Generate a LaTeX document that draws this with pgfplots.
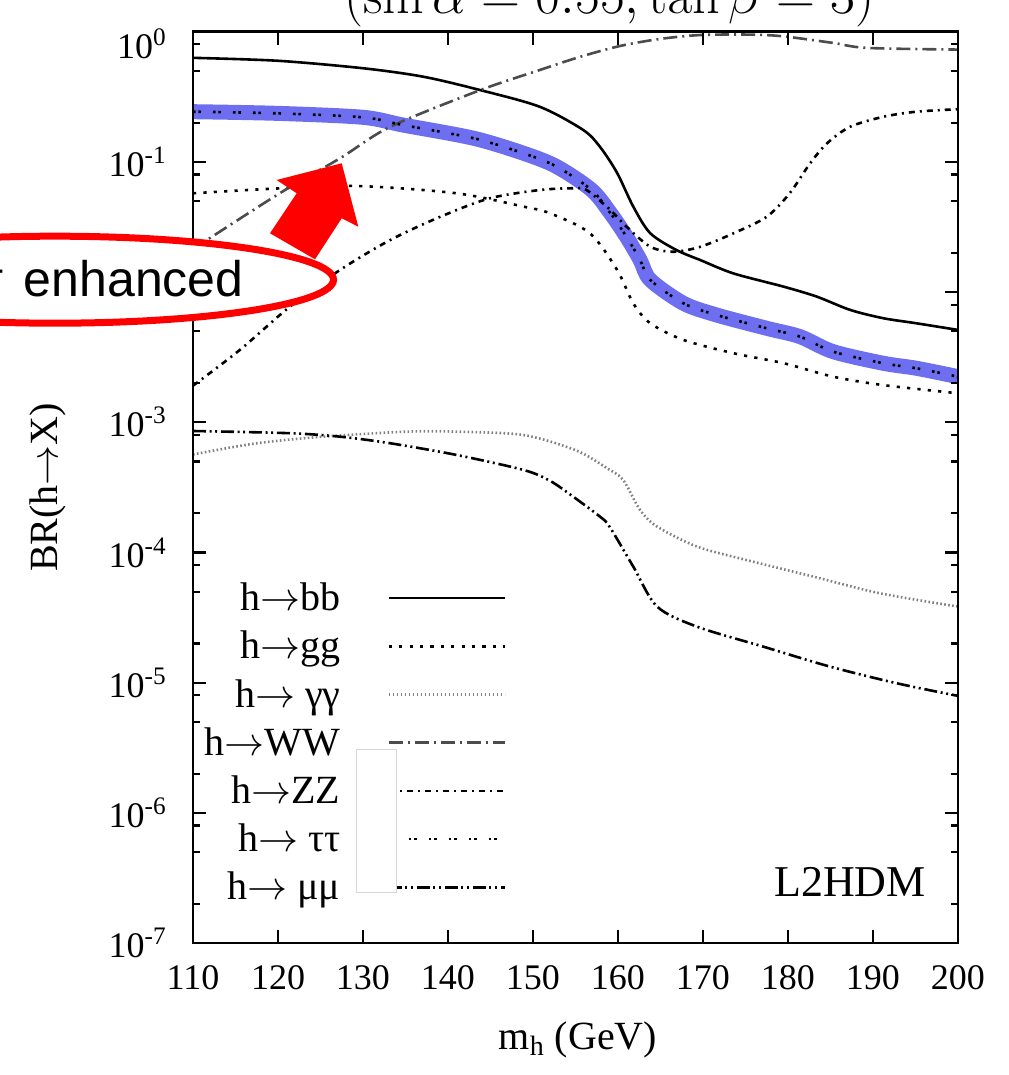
\RequirePackage{fix-cm}
\documentclass[border=0pt]{standalone}
\usepackage[no-math]{fontspec}
\setmainfont{Liberation Serif}
\newfontfamily\sansfont{Liberation Sans}
\usepackage{pgfplots}
\pgfplotsset{compat=1.18}

\definecolor{bandblue}{RGB}{110,110,240}
\definecolor{boxgray}{RGB}{215,215,215}

\tikzset{
  bbline/.style={black, line width=1.3pt},
  ggline/.style={black, line width=1.3pt, dash pattern=on 1.6pt off 3.6pt},
  aaline/.style={black!50, line width=1.3pt, dash pattern=on 0.8pt off 1.2pt},
  wwline/.style={black!70, line width=1.3pt, dash pattern=on 7pt off 2.5pt on 1pt off 2.5pt},
  zzline/.style={black, line width=1.3pt, dash pattern=on 3pt off 2.5pt on 1pt off 2.5pt},
  ttline/.style={black, line width=1.3pt, dash pattern=on 1.3pt off 1.4pt on 1.3pt off 6pt},
  mmline/.style={black, line width=1.3pt, dash pattern=on 6.5pt off 1.8pt on 1pt off 1.8pt on 1pt off 1.9pt},
}

\begin{document}
\begin{tikzpicture}
\useasboundingbox (0,0) rectangle (504pt,537.5pt);
\begin{axis}[
  at={(96.5pt,66pt)}, anchor=south west,
  scale only axis, width=382.5pt, height=455.65pt,
  xmin=110, xmax=200,
  ymode=log, log basis y=10, ymin=1e-7, ymax=1,
  xtick={110,120,...,200},
  ytick={1e-7,1e-6,1e-5,1e-4,1e-3,1e-2,1e-1,1},
  minor ytick={2e-7,5e-7,8e-7,2e-6,5e-6,8e-6,2e-5,5e-5,8e-5,2e-4,5e-4,8e-4,2e-3,5e-3,8e-3,2e-2,5e-2,8e-2,2e-1,5e-1,8e-1},
  axis on top,
  axis line style={line width=1.3pt},
  every tick/.style={black, line width=1.1pt},
  major tick length=6.5pt, minor tick length=3.5pt,
  tick align=inside,
  /pgf/number format/assume math mode=true,
  ticklabel style={font=\fontsize{18}{20}\selectfont},
  xticklabel style={inner sep=0pt, yshift=-11pt},
  yticklabel style={inner sep=0pt, xshift=-13pt},
  yticklabel={\pgfmathtruncatemacro{\e}{round(\tick)}\ifnum\e=0\relax\raisebox{-6pt}[\height][\depth]{10\textsuperscript{\e}}\else 10\textsuperscript{\e}\fi},
  xlabel={m\textsubscript{h} (GeV)},
  xlabel style={at={(axis description cs:0.5033,0)}, anchor=base, yshift=-53pt, inner sep=0pt, font=\fontsize{20}{24}\selectfont},
  ylabel={BR(h$\rightarrow$X)},
  ylabel style={at={(axis description cs:-0.1895,0.5)}, anchor=center, inner sep=0pt, font=\fontsize{20}{24}\selectfont},
  title={$(\sin\alpha = 0.55{,}\tan\beta = 3)$},
  title style={at={(axis description cs:0.8915,1)}, anchor=base east, yshift=3.1pt, inner sep=0pt, font=\fontsize{27}{30}\selectfont},
  legend plot pos=right,
  legend cell align=right,
  legend image code/.code={\draw[#1] (0pt,0pt) -- (58pt,0pt);},
  legend style={draw=none, fill=none, at={(axis description cs:0.4092,0.3954)}, anchor=north east,
    inner sep=0pt, outer sep=0pt, row sep=8.6pt, column sep=23.5pt,
    nodes={inner sep=0pt}, font=\fontsize{20}{24}\selectfont},
]

% highlight band under the tau tau curve
\addplot[bandblue, line width=7.5pt, smooth, tension=0.5, forget plot] coordinates {
 (110,0.243) (119.9,0.236) (130,0.220) (134.7,0.192) (143,0.152) (148.9,0.1164)
 (152.8,0.0919) (156.9,0.0608) (159.1,0.0405) (161,0.0266) (162.6,0.01766)
 (163.8,0.0124) (167.7,0.0082) (171.6,0.00667) (177.5,0.00527) (181.4,0.00455)
 (185.3,0.00349) (191.2,0.00284) (195.1,0.0026) (200,0.00224)};

% h -> bb
\addplot[bbline, smooth, tension=0.5] coordinates {
 (110,0.630) (120,0.598) (130,0.524) (137.1,0.451) (143.8,0.356) (150.8,0.265)
 (155.9,0.176) (157.9,0.130) (159.9,0.0822) (161.8,0.0453) (163.8,0.0283)
 (166.9,0.0210) (169.7,0.0176) (173.6,0.0139) (179.5,0.0110) (183.4,0.00922)
 (187.3,0.00730) (191.2,0.00630) (195.1,0.00576) (200,0.00512)};
\addlegendentry{\rule[-5pt]{0pt}{19pt}h$\rightarrow$bb}

% h -> gg
\addplot[ggline, smooth, tension=0.5] coordinates {
 (110,0.0574) (119.9,0.0625) (129.3,0.0653) (141,0.0574) (148.9,0.0453) (152,0.0403)
 (156.7,0.0283) (159.9,0.01479) (161.8,0.0082) (163.8,0.00576) (167.7,0.00429)
 (173.6,0.00339) (179.5,0.00284) (185.3,0.00224) (191.2,0.00193) (200,0.00167)};
\addlegendentry{\rule[-5pt]{0pt}{19pt}h$\rightarrow$gg}

% h -> gamma gamma
\addplot[aaline, smooth, tension=0.5] coordinates {
 (110,5.66e-4) (117.5,6.90e-4) (125.3,7.75e-4) (135.1,8.47e-4) (141,8.47e-4)
 (148.9,7.98e-4) (155.1,6.07e-4) (158.7,4.44e-4) (160.6,3.61e-4) (162.6,2.12e-4)
 (164.6,1.58e-4) (169.3,1.109e-4) (175.1,8.75e-5) (183,6.52e-5) (190.8,4.86e-5)
 (200,3.84e-5)};
\addlegendentry{\rule[-5pt]{0pt}{19pt}h$\rightarrow$ γγ}

% h -> WW
\addplot[wwline, smooth, tension=0.5] coordinates {
 (110,0.0214) (120.2,0.0574) (127.3,0.1066) (133.2,0.186) (143.8,0.356)
 (150.8,0.508) (155.5,0.640) (160.2,0.776) (164.9,0.879) (169.7,0.943)
 (175.5,0.950) (179.4,0.922) (185.3,0.820) (189.3,0.751) (200,0.729)};
\addlegendentry{\rule[-5pt]{0pt}{19pt}h$\rightarrow$WW}

% h -> ZZ
\addplot[zzline, smooth, tension=0.5] coordinates {
 (110,0.00191) (115.5,0.00359) (121.4,0.00773) (127.3,0.01479) (133.2,0.0251)
 (139.1,0.0379) (144.9,0.0525) (150.8,0.0608) (154.7,0.0627) (156.3,0.0608)
 (159.1,0.0427) (161,0.0318) (163.8,0.0223) (166.5,0.0204) (169.7,0.0223)
 (173.6,0.0283) (177.5,0.0379) (180.2,0.0574) (182.6,0.0975) (184.6,0.139)
 (187.3,0.186) (191.2,0.222) (195.1,0.243) (200,0.254)};
\addlegendentry{\rule[-5pt]{0pt}{19pt}h$\rightarrow$ZZ}

% h -> tau tau
\addplot[ttline, smooth, tension=0.5] coordinates {
 (110,0.243) (119.9,0.236) (130,0.220) (134.7,0.192) (143,0.152) (148.9,0.1164)
 (152.8,0.0919) (156.9,0.0608) (159.1,0.0405) (161,0.0266) (162.6,0.01766)
 (163.8,0.0124) (167.7,0.0082) (171.6,0.00667) (177.5,0.00527) (181.4,0.00455)
 (185.3,0.00349) (191.2,0.00284) (195.1,0.0026) (200,0.00224)};
\addlegendentry{\rule[-5pt]{0pt}{19pt}h$\rightarrow$ ττ}

% h -> mu mu
\addplot[mmline, smooth, tension=0.5] coordinates {
 (110,8.57e-4) (121.4,8.24e-4) (127.3,7.75e-4) (133.2,6.90e-4) (141,5.61e-4)
 (148.9,4.30e-4) (152,3.55e-4) (154.7,2.69e-4) (157.9,1.88e-4) (159,1.58e-4)
 (161.8,7.78e-5) (164.6,3.84e-5) (169.3,2.69e-5) (177.1,1.89e-5) (184.9,1.33e-5)
 (192.8,9.89e-6) (200,7.91e-6)};
\addlegendentry{\rule[-5pt]{0pt}{19pt}h$\rightarrow$ μμ}

\node[anchor=base, inner sep=0pt, font=\fontsize{22}{26}\selectfont] at (rel axis cs:0.8588,0.0505) {L2HDM};
\end{axis}

% annotations, in a frame measured from the top-left corner
\begin{scope}[x=0.5pt, y=-0.5pt, yshift=537.5pt]
  \draw[boxgray, fill=white, line width=0.5pt] (356.7,749.3) rectangle (396.7,892.7);
  \draw[red, line width=3.5pt, fill=white] (55,279.7) ellipse [x radius=278.5, y radius=43.5];
  \node[anchor=base east, inner sep=0pt, font=\sansfont\fontsize{25}{30}\selectfont] at (244,297) {ττ\hspace{3.5pt} enhanced};
  \fill[red] (341.7,163.3) -- (276.7,180) -- (296.7,193.3) -- (270,233.3)
             -- (315,259.3) -- (341.7,218.3) -- (358.3,226.7) -- cycle;
\end{scope}
\end{tikzpicture}
\end{document}
